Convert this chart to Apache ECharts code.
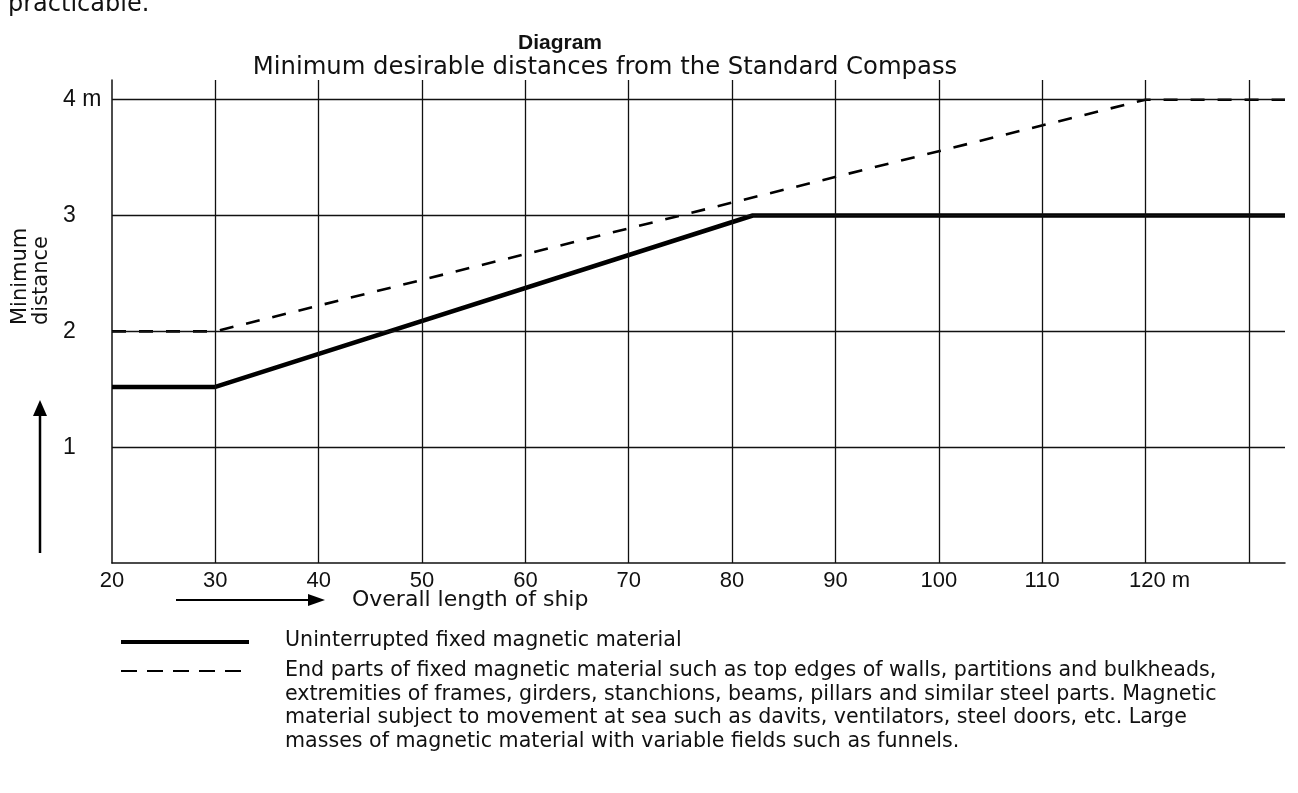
<!DOCTYPE html>
<html>
<head>
<meta charset="utf-8">
<script src="https://cdn.jsdelivr.net/npm/echarts@6/dist/echarts.min.js"></script>
<style>
  html, body { margin: 0; padding: 0; background: #fff; }
  #main { width: 1298px; height: 793px; }
</style>
</head>
<body>
<div id="main"></div>
<script>
// ship length (m) on x, minimum distance (m) on y
const solidLength = [20, 30, 82, 133.5];
const solidDistance = [1.52, 1.52, 3, 3];
const dashedLength = [20, 30, 120, 133.5];
const dashedDistance = [2, 2, 4, 4];

const xTicks = [20, 30, 40, 50, 60, 70, 80, 90, 100, 110, 120];
const yTicks = [1, 2, 3, 4];
const xGrid = [30, 40, 50, 60, 70, 80, 90, 100, 110, 120, 130];
const yGrid = [1, 2, 3, 4];

const X_MAX = 133.5;
const Y_MAX = 4.17;
const ink = '#111';
const font = '"Liberation Sans", Arial, sans-serif';
const wide = '"DejaVu Sans", Verdana, sans-serif';

const chart = echarts.init(document.getElementById('main'));

const gridLines = [];
xGrid.forEach(function (x) {
  gridLines.push([{ coord: [x, 0] }, { coord: [x, Y_MAX] }]);
});
yGrid.forEach(function (y) {
  gridLines.push([{ coord: [20, y] }, { coord: [X_MAX, y] }]);
});

const legendText2 = [
  'End parts of fixed magnetic material such as top edges of walls, partitions and bulkheads,',
  'extremities of frames, girders, stanchions, beams, pillars and similar steel parts. Magnetic',
  'material subject to movement at sea such as davits, ventilators, steel doors, etc. Large',
  'masses of magnetic material with variable fields such as funnels.'
].join('\n');

const option = {
  backgroundColor: '#fff',
  animation: false,
  grid: { left: 112, right: 13, top: 80, bottom: 230 },
  xAxis: {
    type: 'value',
    min: 20,
    max: X_MAX,
    interval: 10,
    axisLine: { show: true, lineStyle: { color: ink, width: 1.5 } },
    axisTick: { show: false },
    splitLine: { show: false },
    axisLabel: {
      margin: 7,
      color: ink,
      fontFamily: font,
      fontSize: 22,
      showMaxLabel: false,
      formatter: function (v) {
        if (v === 120) return '{s|}120 m';
        return xTicks.indexOf(v) >= 0 ? String(v) : '';
      },
      rich: { s: { width: 28 } }
    }
  },
  yAxis: {
    type: 'value',
    min: 0,
    max: Y_MAX,
    interval: 1,
    axisLine: { show: true, lineStyle: { color: ink, width: 1.5 } },
    axisTick: { show: false },
    splitLine: { show: false },
    axisLabel: {
      margin: 49,
      align: 'left',
      color: ink,
      fontFamily: font,
      fontSize: 23,
      formatter: function (v) {
        if (v === 4) return '4 m';
        return yTicks.indexOf(v) >= 0 ? String(v) : '';
      }
    }
  },
  series: [
    {
      name: 'grid',
      type: 'line',
      data: [],
      silent: true,
      markLine: {
        silent: true,
        symbol: 'none',
        label: { show: false },
        lineStyle: { color: ink, width: 1.3, type: 'solid' },
        data: gridLines
      }
    },
    {
      name: 'Uninterrupted fixed magnetic material',
      type: 'line',
      data: solidLength.map(function (x, i) { return [x, solidDistance[i]]; }),
      showSymbol: false,
      lineStyle: { color: '#000', width: 4.5 }
    },
    {
      name: 'End parts of fixed magnetic material',
      type: 'line',
      data: dashedLength.map(function (x, i) { return [x, dashedDistance[i]]; }),
      showSymbol: false,
      lineStyle: { color: '#000', width: 2.6, type: [14, 13] }
    }
  ],
  graphic: [
    { type: 'text', x: 8, y: 17,
      style: { text: 'practicable.', font: '24px ' + wide, fill: ink, verticalAlign: 'bottom' } },
    { type: 'text', x: 560, y: 43,
      style: { text: 'Diagram', font: 'bold 21px ' + font, fill: ink, align: 'center', verticalAlign: 'middle' } },
    { type: 'text', x: 605, y: 68,
      style: { text: 'Minimum desirable distances from the Standard Compass', font: '24.3px ' + wide, fill: ink, align: 'center', verticalAlign: 'middle' } },
    { type: 'text', x: 31, y: 325, rotation: Math.PI / 2,
      style: { text: 'Minimum\ndistance', font: '21px ' + wide, fill: ink, align: 'left', verticalAlign: 'middle', lineHeight: 21 } },
    { type: 'line', shape: { x1: 40, y1: 553, x2: 40, y2: 412 }, style: { stroke: '#000', lineWidth: 2.5 } },
    { type: 'polygon', shape: { points: [[33, 416], [47, 416], [40, 400]] }, style: { fill: '#000' } },
    { type: 'line', shape: { x1: 176, y1: 600, x2: 312, y2: 600 }, style: { stroke: '#000', lineWidth: 2 } },
    { type: 'polygon', shape: { points: [[308, 594], [308, 606], [325, 600]] }, style: { fill: '#000' } },
    { type: 'text', x: 352, y: 600,
      style: { text: 'Overall length of ship', font: '22px ' + wide, fill: ink, verticalAlign: 'middle' } },
    { type: 'line', shape: { x1: 121, y1: 642, x2: 249, y2: 642 }, style: { stroke: '#000', lineWidth: 4 } },
    { type: 'text', x: 285, y: 641,
      style: { text: 'Uninterrupted fixed magnetic material', font: '20.6px ' + wide, fill: ink, verticalAlign: 'middle' } },
    { type: 'line', shape: { x1: 121, y1: 671, x2: 245, y2: 671 }, style: { stroke: '#000', lineWidth: 2, lineDash: [16, 10] } },
    { type: 'text', x: 285, y: 659,
      style: { text: legendText2, font: '20.6px ' + wide, fill: ink, lineHeight: 23.5 } }
  ]
};

chart.setOption(option);
</script>
</body>
</html>
